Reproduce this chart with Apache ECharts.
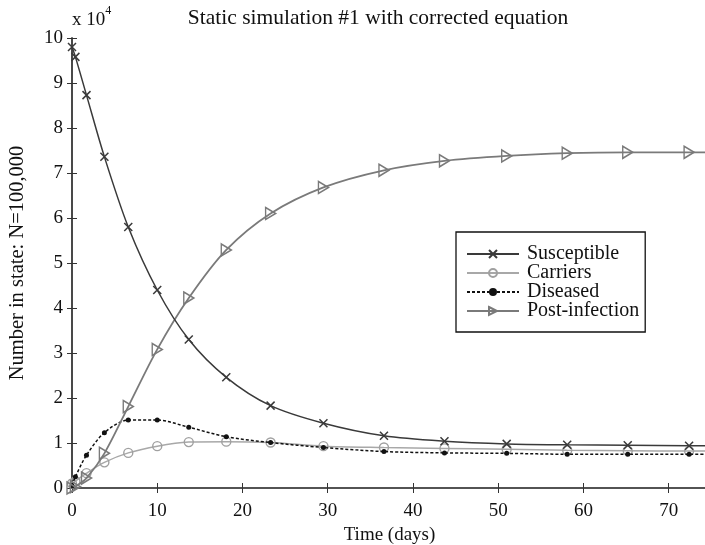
<!DOCTYPE html>
<html>
<head>
<meta charset="utf-8">
<script src="https://cdn.jsdelivr.net/npm/echarts@6/dist/echarts.min.js"></script>
<style>
  html, body { margin: 0; padding: 0; background: #fff; }
  #chart { width: 705px; height: 545px; }
</style>
</head>
<body>
<div id="chart"></div>
<script>
// Solver output times (days); the last entry is the end of the time window
const days = [0, 0.4, 1.7, 3.8, 6.6, 10.0, 13.7, 18.1, 23.3, 29.5, 36.6, 43.7, 51.0, 58.1, 65.2, 72.4, 74.5];

// Number of people in each state, in units of 10^4 (N = 100,000)
const susceptible   = [9.80, 9.58, 8.73, 7.36, 5.80, 4.40, 3.30, 2.46, 1.83, 1.44, 1.16, 1.04, 0.98, 0.96, 0.95, 0.94, 0.94];
const carriers      = [0.10, 0.15, 0.33, 0.57, 0.78, 0.93, 1.02, 1.03, 1.01, 0.93, 0.90, 0.88, 0.86, 0.84, 0.83, 0.82, 0.82];
const diseased      = [0.05, 0.25, 0.73, 1.23, 1.51, 1.51, 1.35, 1.14, 1.01, 0.90, 0.81, 0.78, 0.77, 0.75, 0.75, 0.75, 0.75];
const postInfection = [0.00, 0.03, 0.22, 0.77, 1.81, 3.08, 4.22, 5.29, 6.10, 6.68, 7.06, 7.27, 7.38, 7.44, 7.46, 7.46, 7.46];

const seriesNames = ['Susceptible', 'Carriers', 'Diseased', 'Post-infection'];

const xTicks = [0, 10, 20, 30, 40, 50, 60, 70];
const yTicks = [0, 1, 2, 3, 4, 5, 6, 7, 8, 9, 10];

const titleText = 'Static simulation #1 with corrected equation';
const xName = 'Time (days)';
const yName = 'Number in state: N=100,000';

const FONT = '"Liberation Serif", "Times New Roman", serif';

const pairs = arr => days.map((d, i) => [d, arr[i]]);
// markers only at solver output points, not at the window end
const markerSize = size => (v, p) => (p.dataIndex === days.length - 1 ? 0 : size);

const chart = echarts.init(document.getElementById('chart'), null, { renderer: 'canvas' });

const axisCommon = {
  type: 'value',
  splitLine: { show: false },
  axisTick: { inside: true, length: 5, lineStyle: { color: '#333', width: 1 } }
};

chart.setOption({
  backgroundColor: '#ffffff',
  animation: false,
  grid: { left: 72, top: 38, right: -2, bottom: 57, containLabel: false, outerBoundsMode: 'none' },
  graphic: [
    {
      type: 'text', x: 378, y: 18,
      style: {
        text: titleText, font: '21.5px ' + FONT, fill: '#111',
        textAlign: 'center', textVerticalAlign: 'middle'
      }
    },
    {
      type: 'text', left: 72, top: 5,
      style: {
        text: '{a|x 10}{b|4}',
        rich: {
          a: { fontFamily: FONT, fontSize: 19, fill: '#111', padding: [6, 0, 0, 0] },
          b: { fontFamily: FONT, fontSize: 12, fill: '#111', verticalAlign: 'top' }
        }
      }
    }
  ],
  legend: {
    orient: 'vertical',
    left: 456, top: 232,
    data: seriesNames,
    itemWidth: 52, itemHeight: 10, itemGap: -1,
    padding: [12, 6, 11, 10],
    borderColor: '#111', borderWidth: 1.3,
    backgroundColor: '#fff',
    textStyle: { fontFamily: FONT, fontSize: 20, color: '#111', padding: [0, 0, 0, 3] }
  },
  xAxis: [
    Object.assign({}, axisCommon, {
      position: 'bottom', min: 0, max: 74.5, interval: 10,
      axisLine: { lineStyle: { color: '#808080', width: 2 } },
      axisLabel: {
        fontFamily: FONT, fontSize: 19, color: '#111', margin: 14, showMaxLabel: false,
        formatter: v => (xTicks.includes(v) ? String(v) : '')
      },
      name: xName, nameLocation: 'middle', nameGap: 37,
      nameTextStyle: { fontFamily: FONT, fontSize: 19, color: '#111' }
    }),
    Object.assign({}, axisCommon, {
      position: 'top', min: 0, max: 74.5, interval: 10,
      axisLine: { lineStyle: { color: '#444', width: 1.5 } },
      axisLabel: { show: false }
    })
  ],
  yAxis: [
    Object.assign({}, axisCommon, {
      position: 'left', min: 0, max: 10, interval: 1,
      axisLine: { lineStyle: { color: '#222', width: 1.5 } },
      axisLabel: {
        fontFamily: FONT, fontSize: 19, color: '#111', margin: 9,
        formatter: v => (yTicks.includes(v) ? String(v) : '')
      },
      name: yName, nameLocation: 'middle', nameGap: 44,
      nameTextStyle: { fontFamily: FONT, fontSize: 20.5, color: '#111' }
    }),
    Object.assign({}, axisCommon, {
      position: 'right', min: 0, max: 10, interval: 1,
      axisLine: { lineStyle: { color: '#444', width: 1.5 } },
      axisLabel: { show: false }
    })
  ],
  series: [
    {
      name: seriesNames[0], type: 'line', data: pairs(susceptible),
      smooth: 0.3,
      symbol: 'path://M0,0L10,10M10,0L0,10', symbolSize: markerSize(8),
      lineStyle: { color: '#3a3a3a', width: 1.5 },
      itemStyle: { color: 'transparent', borderColor: '#3a3a3a', borderWidth: 1.5 },
      z: 4
    },
    {
      name: seriesNames[1], type: 'line', data: pairs(carriers),
      smooth: 0.3,
      symbol: 'circle', symbolSize: markerSize(9),
      lineStyle: { color: '#a8a8a8', width: 1.5 },
      itemStyle: { color: 'transparent', borderColor: '#a0a0a0', borderWidth: 1.4 },
      z: 2
    },
    {
      name: seriesNames[2], type: 'line', data: pairs(diseased),
      smooth: 0.3,
      symbol: 'circle', symbolSize: markerSize(5),
      lineStyle: { color: '#111', width: 1.5, type: [3, 2] },
      itemStyle: { color: '#111', borderColor: '#111', borderWidth: 0 },
      z: 3
    },
    {
      name: seriesNames[3], type: 'line', data: pairs(postInfection),
      smooth: 0.3,
      symbol: 'path://M0,0L10,5L0,10Z', symbolSize: markerSize([10, 12]),
      lineStyle: { color: '#7a7a7a', width: 1.8 },
      itemStyle: { color: 'transparent', borderColor: '#7a7a7a', borderWidth: 1.5 },
      z: 3
    }
  ]
});
</script>
</body>
</html>
